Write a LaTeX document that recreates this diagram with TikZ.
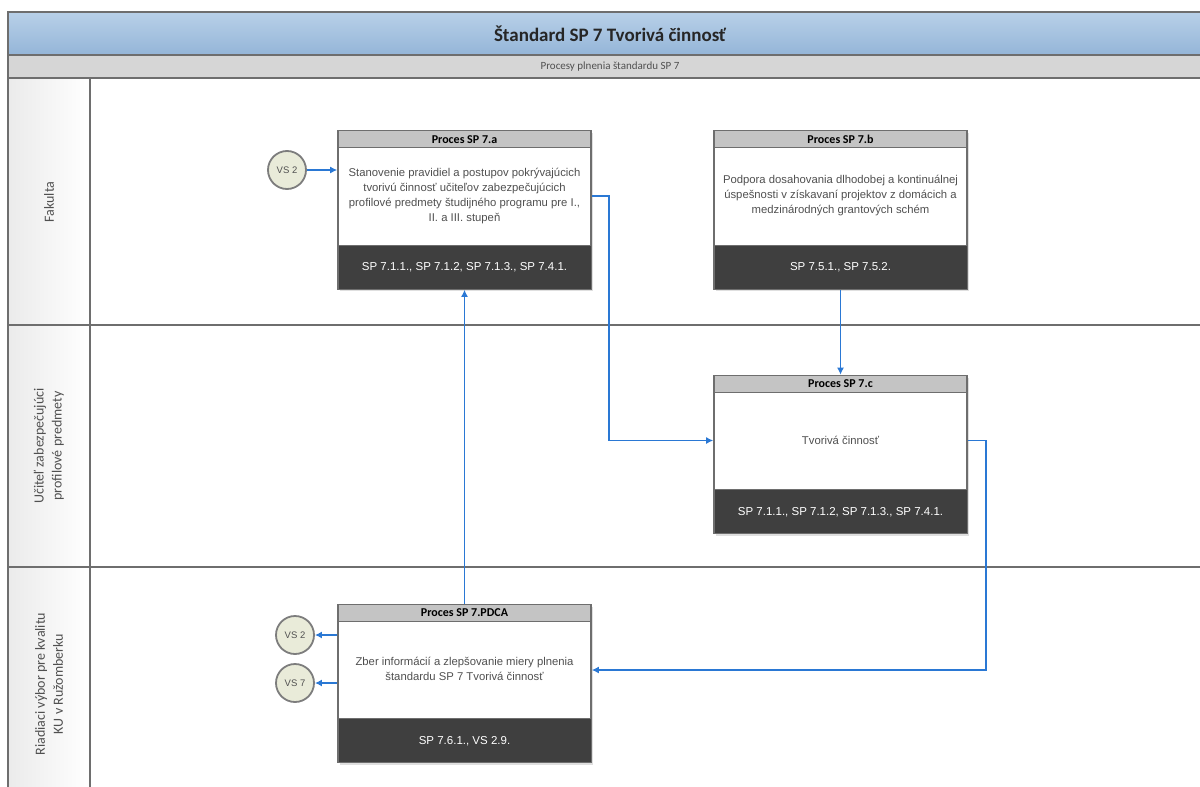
\documentclass[tikz,border=0pt]{standalone}
\usepackage{fontspec}
\setmainfont{Liberation Sans}
\newfontfamily\carlitofont{Carlito}
\usetikzlibrary{arrows.meta,calc,shadows}
\definecolor{titletop}{HTML}{B8D0E8}
\definecolor{titlebot}{HTML}{94B5D8}
\definecolor{subgray}{HTML}{D6D6D6}
\definecolor{hdrgray}{HTML}{C4C4C4}
\definecolor{darkband}{HTML}{3F3F3F}
\definecolor{framec}{HTML}{6E6E6E}
\definecolor{arrowc}{HTML}{2A78D4}
\definecolor{circfill}{HTML}{E9EBD9}
\definecolor{txtc}{HTML}{505050}
\tikzset{
  procbox/.style={draw=framec, line width=1.6pt, minimum width=253pt, minimum height=158pt, inner sep=0pt, fill=white, drop shadow={shadow xshift=2pt,shadow yshift=-2pt,opacity=0.25}},
  hdr/.style={fill=hdrgray, draw=framec, line width=1.2pt, minimum width=253pt, minimum height=17pt, inner sep=0pt, font=\carlitofont\bfseries\fontsize{12}{12}\selectfont, anchor=north},
  band/.style={fill=darkband, draw=framec, line width=1pt, minimum width=253pt, minimum height=44pt, inner sep=0pt, text=white, font=\fontsize{11.5}{12}\selectfont, anchor=south},
  body/.style={align=center, text=txtc, font=\fontsize{11.3}{15}\selectfont},
  vs/.style={circle, draw=framec!90, line width=1.8pt, fill=circfill, minimum size=38pt, inner sep=0pt, text=txtc, font=\fontsize{9.5}{10}\selectfont},
  arr/.style={draw=arrowc, line width=1.6pt, -{Latex[length=7pt,width=7pt]}},
  lanetxt/.style={rotate=90, align=center, text=txtc, font=\carlitofont\fontsize{14}{18}\selectfont},
  laneline/.style={draw=framec, line width=1.4pt}
}
\begin{document}
\begin{tikzpicture}[x=1pt,y=-1pt]
\useasboundingbox (0,0) rectangle (1200,787);
\begin{scope}
\clip (0,0) rectangle (1200,787);
% title band
\shade[top color=titletop, bottom color=titlebot] (8,12) rectangle (1210,55);
\fill[subgray] (8,55) rectangle (1210,78);
\shade[left color=white!92!black, right color=white] (8,78) rectangle (90,800);
\draw[laneline, line width=2pt] (8,800) -- (8,12) -- (1210,12);
\draw[laneline, line width=2pt] (8,55) -- (1210,55);
\draw[laneline] (8,78) -- (1210,78);
\draw[laneline] (90,78) -- (90,800);
\draw[laneline] (8,325) -- (1210,325);
\draw[laneline] (8,567) -- (1210,567);
\end{scope}
\node[font=\carlitofont\bfseries\fontsize{19}{22}\selectfont, text=black!85] (title) at (610,34) {Štandard SP 7 Tvorivá činnosť};
\node[font=\carlitofont\fontsize{11}{12}\selectfont, text=txtc] (sub) at (610,67) {Procesy plnenia štandardu SP 7};
% lane labels
\node[lanetxt] (l1) at (49,202) {Fakulta};
\node[lanetxt] (l2) at (49,446) {Učiteľ zabezpečujúci\\profilové predmety};
\node[lanetxt] (l3) at (49,684) {Riadiaci výbor pre kvalitu\\KU v Ružomberku};
% process 7.a
\node[procbox] (a) at (464.5,210) {};
\node[hdr] (ah) at (a.north) {Proces SP 7.a};
\node[band] (af) at (a.south) {SP 7.1.1., SP 7.1.2, SP 7.1.3., SP 7.4.1.};
\node[body] (at) at (464.5,196) {Stanovenie pravidiel a postupov pokrývajúcich\\tvorivú činnosť učiteľov zabezpečujúcich\\profilové predmety študijného programu pre I.,\\II. a III. stupeň};
% process 7.b
\node[procbox] (b) at (840.5,210) {};
\node[hdr] (bh) at (b.north) {Proces SP 7.b};
\node[band] (bf) at (b.south) {SP 7.5.1., SP 7.5.2.};
\node[body] (bt) at (840.5,196) {Podpora dosahovania dlhodobej a kontinuálnej\\úspešnosti v získavaní projektov z domácich a\\medzinárodných grantových schém};
% process 7.c
\node[procbox] (c) at (840.5,454.5) {};
\node[hdr] (ch) at (c.north) {Proces SP 7.c};
\node[band] (cf) at (c.south) {SP 7.1.1., SP 7.1.2, SP 7.1.3., SP 7.4.1.};
\node[body] (ct) at (840.5,440) {Tvorivá činnosť};
% process PDCA
\node[procbox] (p) at (464.5,683.5) {};
\node[hdr] (ph) at (p.north) {Proces SP 7.PDCA};
\node[band] (pf) at (p.south) {SP 7.6.1., VS 2.9.};
\node[body] (pt) at (464.5,669) {Zber informácií a zlepšovanie miery plnenia\\štandardu SP 7 Tvorivá činnosť};
% circles
\node[vs] (vsa) at (287,170) {VS 2};
\node[vs] (vsb) at (295,635) {VS 2};
\node[vs] (vsc) at (295,683) {VS 7};
% connectors
\draw[arr] (vsa) -- (vsa -| a.west);
\draw[arr] ([yshift=14pt]a.east) -- ++(17,0) |- ([yshift=14pt]c.west);
\draw[arr] (b.south) -- (c.north);
\draw[arr] ([yshift=14pt]c.east) -- ++(18,0) |- ([yshift=13.5pt]p.east);
\draw[arr] (p.north) -- (a.south);
\draw[arr] (vsb -| p.west) -- (vsb);
\draw[arr] (vsc -| p.west) -- (vsc);
\end{tikzpicture}
\end{document}
